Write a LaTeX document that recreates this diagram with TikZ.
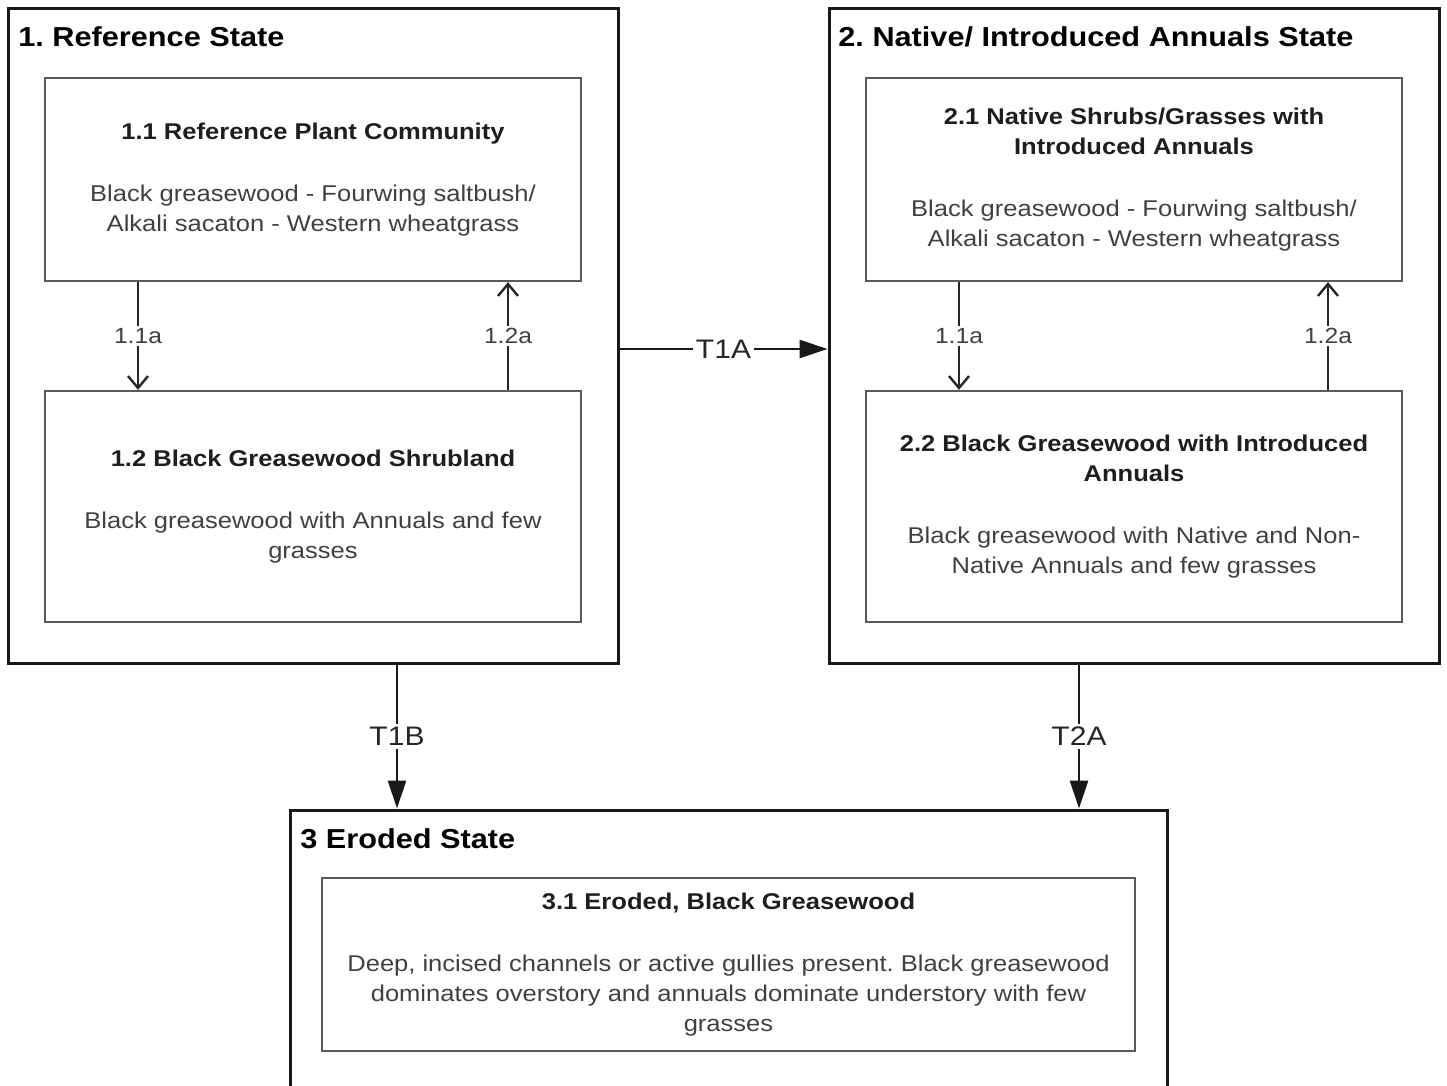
\documentclass[tikz,border=0pt]{standalone}
\usepackage{fontspec}
\setmainfont{Liberation Sans}[FakeStretch=1.12]
\usetikzlibrary{arrows.meta}
\frenchspacing

\definecolor{boxgray}{HTML}{5A5A5A}
\definecolor{headgray}{HTML}{1E1E1E}
\definecolor{bodygray}{HTML}{404040}
\newcommand{\hd}[1]{{\color{headgray}\bfseries #1}}

\begin{document}
\begin{tikzpicture}[x=0.5pt,y=-0.5pt]
        \tikzstyle{statebox}=[rectangle, draw=black!90, line width=1.5pt, inner sep=0pt]
        \tikzstyle{statetitle}=[inner sep=0pt, anchor=base west, font=\fontsize{13.7}{16}\selectfont\bfseries, text=black]
        \tikzstyle{phasebox}=[rectangle, draw=boxgray, line width=1.1pt, inner sep=0pt, minimum width=268pt, font=\fontsize{11.4}{15}\selectfont, text=bodygray]
        \tikzstyle{lbl}=[fill=white, inner sep=1pt, font=\fontsize{11}{13}\selectfont, text=bodygray]
        \tikzstyle{pw}=[line width=1.2pt, draw=black!85, -{Straight Barb[length=6pt,width=10pt]}]
        \tikzstyle{tr}=[line width=1.4pt, draw=black!90, -{Triangle[length=14pt,width=9pt]}]
        \tikzstyle{tlbl}=[fill=white, inner sep=1.5pt, font=\fontsize{13.4}{15}\selectfont, text=black!85]

        \clip (0,0) rectangle (1447,1086);

        \node[statebox, minimum width=305pt, minimum height=327pt] (s1) at (313,336) {};
        \node[statebox, minimum width=305pt, minimum height=327pt] (s2) at (1134,336) {};
        \node[statebox, minimum width=438.5pt, minimum height=145pt] (s3) at (728.5,955) {};

        \node[statetitle] (s1t) at (18,47)  {1. Reference State};
        \node[statetitle] (s2t) at (838,47) {2. Native/ Introduced Annuals State};
        \node[statetitle] (s3t) at (300,848) {3 Eroded State};

        \node[phasebox, minimum height=101.5pt] (b11) at (313,179.5) {\begin{tabular}{@{}c@{}} \hd{1.1 Reference Plant Community} \\[16pt] Black greasewood - Fourwing saltbush/ \\ Alkali sacaton - Western wheatgrass \end{tabular}};
        \node[phasebox, minimum height=115.5pt] (b12) at (313,506.5) {\begin{tabular}{@{}c@{}} \hd{1.2 Black Greasewood Shrubland} \\[16pt] Black greasewood with Annuals and few \\ grasses \end{tabular}};
        \node[phasebox, minimum height=101.5pt] (b21) at (1134,179.5) {\begin{tabular}{@{}c@{}} \hd{2.1 Native Shrubs/Grasses with} \\ \hd{Introduced Annuals} \\[16pt] Black greasewood - Fourwing saltbush/ \\ Alkali sacaton - Western wheatgrass \end{tabular}};
        \node[phasebox, minimum height=115.5pt] (b22) at (1134,506.5) {\begin{tabular}{@{}c@{}} \hd{2.2 Black Greasewood with Introduced} \\ \hd{Annuals} \\[16pt] Black greasewood with Native and Non- \\ Native Annuals and few grasses \end{tabular}};
        \node[phasebox, minimum width=406.5pt, minimum height=86.5pt] (b31) at (728.5,964.5) {\begin{tabular}{@{}c@{}} \hd{3.1 Eroded, Black Greasewood} \\[16pt] Deep, incised channels or active gullies present. Black greasewood \\ dominates overstory and annuals dominate understory with few \\ grasses \end{tabular}};

        % community pathways
        \draw[pw] ([xshift=-87.5pt]b11.south) -- node[lbl]{1.1a} ([xshift=-87.5pt]b12.north);
        \draw[pw] ([xshift=97.5pt]b12.north) -- node[lbl]{1.2a} ([xshift=97.5pt]b11.south);
        \draw[pw] ([xshift=-87.5pt]b21.south) -- node[lbl]{1.1a} ([xshift=-87.5pt]b22.north);
        \draw[pw] ([xshift=97pt]b22.north) -- node[lbl]{1.2a} ([xshift=97pt]b21.south);

        % transitions
        \coordinate (t1b) at ([xshift=42pt]s1.south);
        \coordinate (t2a) at ([xshift=-27.5pt]s2.south);
        \draw[tr] ([yshift=-6.5pt]s1.east) -- node[tlbl]{T1A} ([yshift=-6.5pt]s2.west);
        \draw[tr] (t1b) -- node[tlbl]{T1B} (t1b |- s3.north);
        \draw[tr] (t2a) -- node[tlbl]{T2A} (t2a |- s3.north);
\end{tikzpicture}
\end{document}
